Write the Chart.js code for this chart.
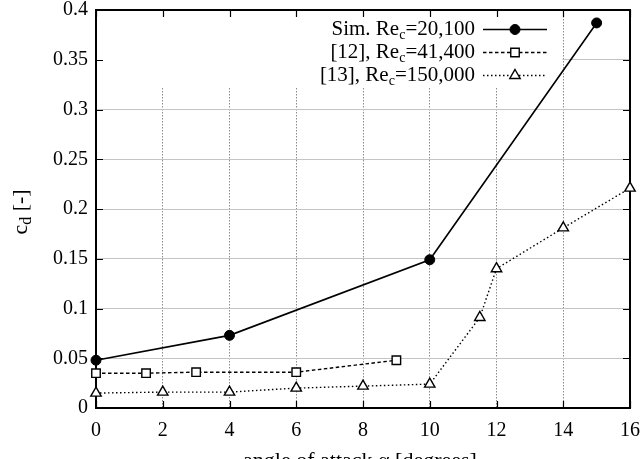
<!DOCTYPE html>
<html><head><meta charset="utf-8">
<script src="https://cdn.jsdelivr.net/npm/chart.js@4/dist/chart.umd.min.js"></script>
<style>html,body{margin:0;padding:0;background:#fff}#wrap{width:643px;height:459px;position:relative}</style>
</head><body><div id="wrap"><canvas id="c" width="643" height="459"></canvas></div>
<script>
// ---- data ----
const simAngle = [0, 4, 10, 15];
const simCd = [0.048, 0.073, 0.149, 0.387];
const ref12Angle = [0, 1.5, 3, 6, 9];
const ref12Cd = [0.035, 0.035, 0.036, 0.036, 0.048];
const ref13Angle = [0, 2, 4, 6, 8, 10, 11.5, 12, 14, 16];
const ref13Cd = [0.015, 0.016, 0.016, 0.020, 0.022, 0.024, 0.091, 0.140, 0.181, 0.221];
const xTicks = [0, 2, 4, 6, 8, 10, 12, 14, 16];
const yTicks = [0, 0.05, 0.1, 0.15, 0.2, 0.25, 0.3, 0.35, 0.4];
const yTickLabels = ['0', '0.05', '0.1', '0.15', '0.2', '0.25', '0.3', '0.35', '0.4'];
const legendMain = ['Sim. Re', '[12], Re', '[13], Re'];
const legendSub = 'c';
const legendTail = ['=20,100', '=41,400', '=150,000'];
const xTitle = 'angle of attack \u03b1 [degrees]';
const yTitleMain = 'c', yTitleSub = 'd', yTitleTail = ' [-]';

const FONT = '"Liberation Serif", "DejaVu Serif", serif';
const pts = (xs, ys) => xs.map((x, i) => ({x: x, y: ys[i]}));

const decor = {
  id: 'decor',
  afterLayout(chart) {
    // pin the plot frame
    const a = chart.chartArea;
    a.left = 96; a.right = 630; a.top = 10; a.bottom = 408;
    a.width = a.right - a.left; a.height = a.bottom - a.top;
    const {x, y} = chart.scales;
    x.left = 96; x.right = 630; x.width = 534; x.top = 408; x.bottom = 459; x.height = 51;
    y.top = 10; y.bottom = 408; y.height = 398; y.left = 0; y.right = 96; y.width = 96;
    x.configure(); y.configure();
  },
  beforeDatasetsDraw(chart) {
    const {ctx, chartArea: a, scales: {x, y}} = chart;
    ctx.save();
    // opaque key area
    ctx.fillStyle = '#fff';
    ctx.fillRect(a.left + 1, a.top + 1, x.getPixelForValue(14) - 2 - a.left, 77);
    // frame
    ctx.strokeStyle = '#000';
    ctx.lineWidth = 2;
    ctx.strokeRect(a.left, a.top, a.right - a.left, a.bottom - a.top);
    // inward ticks
    ctx.lineWidth = 1.2;
    ctx.beginPath();
    xTicks.forEach(v => {
      const px = Math.round(x.getPixelForValue(v)) + 0.5;
      ctx.moveTo(px, a.bottom); ctx.lineTo(px, a.bottom - 7);
      ctx.moveTo(px, a.top); ctx.lineTo(px, a.top + 7);
    });
    yTicks.forEach(v => {
      const py = Math.round(y.getPixelForValue(v)) + 0.5;
      ctx.moveTo(a.left, py); ctx.lineTo(a.left + 7, py);
      ctx.moveTo(a.right, py); ctx.lineTo(a.right - 7, py);
    });
    ctx.stroke();
    ctx.restore();
  },
  afterDatasetsDraw(chart) {
    const {ctx, chartArea: a} = chart;
    ctx.save();
    // legend
    const fs = 21, subFs = 14;
    const textRight = 475, lineL = 483, lineR = 547, mark = 515;
    chart.data.datasets.forEach((ds, i) => {
      const cy = 29 + i * 23;
      ctx.fillStyle = '#000';
      ctx.textBaseline = 'middle';
      ctx.textAlign = 'left';
      ctx.font = fs + 'px ' + FONT;
      const w1 = ctx.measureText(legendMain[i]).width;
      const w3 = ctx.measureText(legendTail[i]).width;
      ctx.font = subFs + 'px ' + FONT;
      const w2 = ctx.measureText(legendSub).width;
      let xs = textRight - (w1 + w2 + w3);
      ctx.font = fs + 'px ' + FONT;
      ctx.fillText(legendMain[i], xs, cy);
      ctx.font = subFs + 'px ' + FONT;
      ctx.fillText(legendSub, xs + w1, cy + 6);
      ctx.font = fs + 'px ' + FONT;
      ctx.fillText(legendTail[i], xs + w1 + w2, cy);
      // sample line
      ctx.strokeStyle = ds.borderColor;
      ctx.lineWidth = ds.borderWidth;
      ctx.setLineDash(ds.borderDash || []);
      ctx.beginPath(); ctx.moveTo(lineL, cy + 0.5); ctx.lineTo(lineR, cy + 0.5); ctx.stroke();
      ctx.setLineDash([]);
      ctx.fillStyle = ds.pointBackgroundColor;
      ctx.strokeStyle = ds.pointBorderColor;
      ctx.lineWidth = ds.pointBorderWidth;
      Chart.helpers.drawPoint(ctx, {pointStyle: ds.pointStyle, radius: ds.pointRadius, borderWidth: ds.pointBorderWidth, rotation: 0}, mark, cy + 0.5);
    });
    // x axis title
    ctx.fillStyle = '#000';
    ctx.textAlign = 'left';
    ctx.textBaseline = 'alphabetic';
    ctx.font = '22px ' + FONT;
    const tw = ctx.measureText(xTitle).width;
    ctx.fillText(xTitle, (a.left + a.right) / 2 - 3 - tw / 2, 467);
    // y title rotated (reads bottom to top)
    ctx.translate(27, 212);
    ctx.rotate(-Math.PI / 2);
    ctx.font = '22px ' + FONT;
    const m1 = ctx.measureText(yTitleMain).width;
    const m3 = ctx.measureText(yTitleTail).width;
    ctx.font = '16px ' + FONT;
    const m2 = ctx.measureText(yTitleSub).width;
    const sx = -(m1 + m2 + m3) / 2;
    ctx.font = '22px ' + FONT;
    ctx.fillText(yTitleMain, sx, 0);
    ctx.font = '16px ' + FONT;
    ctx.fillText(yTitleSub, sx + m1, 4);
    ctx.font = '22px ' + FONT;
    ctx.fillText(yTitleTail, sx + m1 + m2, 0);
    ctx.restore();
  }
};

new Chart(document.getElementById('c'), {
  type: 'line',
  data: {
    datasets: [
      {label: 'sim', data: pts(simAngle, simCd), borderColor: '#000', borderWidth: 1.6,
       pointStyle: 'circle', pointRadius: 5, pointBackgroundColor: '#000', pointBorderColor: '#000', pointBorderWidth: 1, clip: false},
      {label: 'r12', data: pts(ref12Angle, ref12Cd), borderColor: '#000', borderWidth: 1.4, borderDash: [3.5, 2.5],
       pointStyle: 'rect', pointRadius: 6, pointBackgroundColor: '#fff', pointBorderColor: '#000', pointBorderWidth: 1.4, clip: false},
      {label: 'r13', data: pts(ref13Angle, ref13Cd), borderColor: '#000', borderWidth: 1.4, borderDash: [1.5, 2.5],
       pointStyle: 'triangle', pointRadius: 6, pointBackgroundColor: '#fff', pointBorderColor: '#000', pointBorderWidth: 1.4, clip: false}
    ]
  },
  options: {
    responsive: false, animation: false, devicePixelRatio: 1,
    layout: {padding: {left: 0, top: 0, right: 13, bottom: 0}},
    plugins: {legend: {display: false}, tooltip: {enabled: false}},
    elements: {line: {tension: 0}},
    scales: {
      x: {
        type: 'linear', min: 0, max: 16,
        afterBuildTicks: s => { s.ticks = xTicks.map(v => ({value: v})); },
        afterFit: s => { s.height = 51; },
        ticks: {font: {family: FONT, size: 20}, color: '#000', padding: 11, maxRotation: 0,
                callback: v => String(v)},
        grid: {drawTicks: false, lineWidth: 1,
               color: c => (c.tick && (c.tick.value === 0 || c.tick.value === 16)) ? 'rgba(0,0,0,0)' : '#8a8a8a'},
        border: {display: false, dash: [1.5, 1.5]}
      },
      y: {
        type: 'linear', min: 0, max: 0.4,
        afterBuildTicks: s => { s.ticks = yTicks.map(v => ({value: v})); },
        afterFit: s => { s.width = 96; },
        ticks: {font: {family: FONT, size: 20}, color: '#000', padding: 8,
                callback: (v, i) => yTickLabels[i]},
        grid: {drawTicks: false, lineWidth: 1,
               color: c => (c.tick && (c.tick.value === 0 || Math.abs(c.tick.value - 0.4) < 1e-9)) ? 'rgba(0,0,0,0)' : '#c4c4c4'},
        border: {display: false}
      }
    }
  },
  plugins: [decor]
});
</script>
</body></html>
